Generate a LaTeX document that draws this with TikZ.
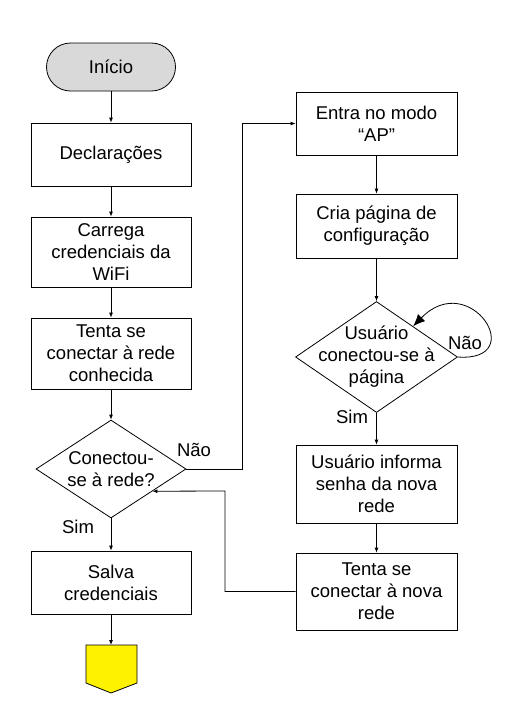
\documentclass[tikz,border=0pt]{standalone}
\usepackage{fontspec}
\setmainfont{Liberation Sans}
\usetikzlibrary{shapes.geometric, arrows.meta, positioning, calc}

\begin{document}
\begin{tikzpicture}[x=1pt, y=-1pt,
    bloco/.style={draw=black, rectangle, minimum width=160pt, minimum height=63pt, align=center, font=\fontsize{18.5}{22}\selectfont, line width=0.8pt},
    decisao/.style={draw=black, diamond, inner sep=0pt, line width=0.8pt},
    texto/.style={align=center, font=\fontsize{18.5}{22}\selectfont},
    rotulo/.style={font=\fontsize{18.5}{22}\selectfont},
    seta/.style={-{Latex[length=5pt, width=4pt]}, line width=0.8pt}]
  \useasboundingbox (0,0) rectangle (524,724);

  % coluna da esquerda
  \node[bloco, fill=black!15, rounded corners=24pt, minimum width=129pt, minimum height=48pt] (inicio) at (111, 67) {Início};
  \node[bloco] (decl) at (111, 154.5) {Declarações};
  \node[bloco, minimum height=70pt] (carrega) at (111, 252) {Carrega\\credenciais da\\WiFi};
  \node[bloco, minimum height=71pt] (tenta) at (111, 353.5) {Tenta se\\conectar à rede\\conhecida};
  \node[decisao, minimum width=150pt, minimum height=98pt] (conectou) at (111, 469) {};
  \node[texto] (conectoutxt) at (conectou) {Conectou-\\se à rede?};
  \node[bloco] (salva) at (111, 582.5) {Salva\\credenciais};
  \coordinate (fim) at (111, 645);
  \draw[line width=0.8pt, fill=yellow] (86, 645) -- (137, 645) -- (137, 683) -- (111, 693) -- (86, 683) -- cycle;

  % coluna da direita
  \node[bloco, minimum width=161pt] (ap) at (376.5, 123.5) {Entra no modo\\“AP”};
  \node[bloco, minimum width=161pt, minimum height=64pt] (pagina) at (376.5, 226) {Cria página de\\configuração};
  \node[decisao, minimum width=162pt, minimum height=111pt] (usuario) at (376.5, 357) {};
  \node[texto] (usuariotxt) at (usuario) {Usuário\\conectou-se à\\página};
  \node[bloco, minimum width=161pt, minimum height=78pt] (senha) at (376.5, 484) {Usuário informa\\senha da nova\\rede};
  \node[bloco, minimum width=161pt, minimum height=77pt] (novarede) at (376.5, 591.5) {Tenta se\\conectar à nova\\rede};

  % ligacoes
  \draw[seta] (inicio) -- (decl);
  \draw[seta] (decl) -- (carrega);
  \draw[seta] (carrega) -- (tenta);
  \draw[seta] (tenta) -- (conectou.north);
  \draw[seta] (conectou.south) -- (salva);
  \draw[seta] (salva) -- (fim);
  \coordinate (desvio) at (242, 123.5);
  \draw[seta] (conectou.east) -| (desvio) -- (ap.west);
  \draw[seta] (ap) -- (pagina);
  \draw[seta] (pagina) -- (usuario.north);
  \draw[seta] (usuario.south) -- (senha);
  \draw[seta] (senha) -- (novarede);
  \draw[line width=0.8pt, -{Latex[length=12pt, width=10pt]}] (usuario.east) .. controls (530, 362) and (470, 268) .. ($(usuario.north)!0.45!(usuario.east)$);
  \coordinate (retorno) at (225, 491);
  \draw[seta] (novarede.west) -| (retorno) -- ($(conectou.east)!0.45!(conectou.south)$);

  % rotulos
  \node[rotulo] (nao1) at (194, 450) {Não};
  \node[rotulo] (sim1) at (78, 527) {Sim};
  \node[rotulo] (nao2) at (465, 343) {Não};
  \node[rotulo] (sim2) at (352, 417) {Sim};
\end{tikzpicture}
\end{document}
